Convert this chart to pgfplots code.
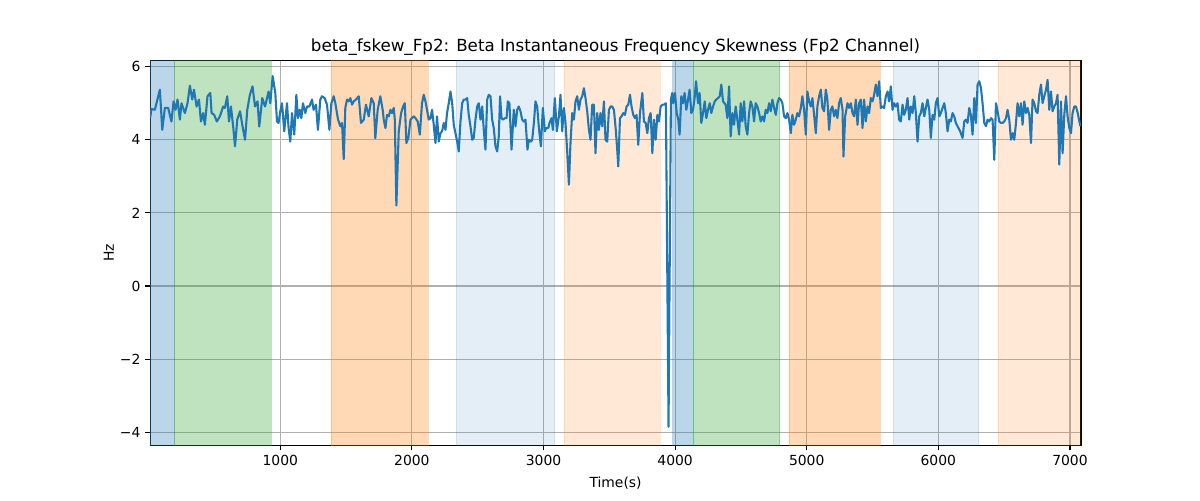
\documentclass[border=0pt]{standalone}
\usepackage{fontspec}
\setmainfont{DejaVu Sans}
\usepackage{pgfplots}
\pgfplotsset{compat=1.18}
\definecolor{tabblue}{RGB}{31,119,180}
\definecolor{taborange}{RGB}{255,127,14}
\definecolor{tabgreen}{RGB}{44,160,44}
\definecolor{gridgray}{RGB}{176,176,176}
\begin{document}
\begin{tikzpicture}
\path[use as bounding box] (-108pt,-39.6pt) rectangle (755.2pt,320.4pt);
\begin{axis}[
  at={(0pt,0pt)}, anchor=south west, scale only axis,
  width=669.6pt, height=277.2pt,
  xmin=11, xmax=7084, ymin=-4.36, ymax=6.18,
  xtick={1000,2000,3000,4000,5000,6000,7000},
  xticklabels={1000,2000,3000,4000,5000,6000,7000},
  ytick={-4,-2,0,2,4,6},
  yticklabels={−4,−2,0,2,4,6},
  xtick pos=bottom, ytick pos=left,
  tick align=outside, major tick length=3.5pt,
  every tick/.style={black, line width=0.8pt},
  axis line style={line width=0.8pt},
  grid=major, major grid style={color=gridgray, line width=0.8pt},
  tick label style={font=\fontsize{10}{12}\selectfont},
  title={beta\_fskew\_Fp2: Beta Instantaneous Frequency Skewness (Fp2 Channel)},
  title style={at={(axis description cs:0.5,1)}, anchor=base, yshift=0.5pt, font=\fontsize{12}{14}\selectfont},
  xlabel={Time(s)},
  xlabel style={at={(axis description cs:0.5,0)}, anchor=base, yshift=-30pt, font=\fontsize{10}{12}\selectfont},
  ylabel={Hz},
  ylabel style={at={(axis description cs:-0.039,0.5)}, anchor=base, rotate=0, font=\fontsize{10}{12}\selectfont},
  clip=true,
]
\addplot[draw=tabblue, draw opacity=0.3, fill=tabblue, fill opacity=0.3] coordinates {(11,-10) (196,-10) (196,10) (11,10)} -- cycle;
\addplot[draw=tabgreen, draw opacity=0.3, fill=tabgreen, fill opacity=0.3] coordinates {(196,-10) (929,-10) (929,10) (196,10)} -- cycle;
\addplot[draw=taborange, draw opacity=0.3, fill=taborange, fill opacity=0.3] coordinates {(1388,-10) (2123,-10) (2123,10) (1388,10)} -- cycle;
\addplot[draw=tabblue, draw opacity=0.12, fill=tabblue, fill opacity=0.12] coordinates {(2338,-10) (3084,-10) (3084,10) (2338,10)} -- cycle;
\addplot[draw=taborange, draw opacity=0.17, fill=taborange, fill opacity=0.17] coordinates {(3155,-10) (3884,-10) (3884,10) (3155,10)} -- cycle;
\addplot[draw=tabblue, draw opacity=0.3, fill=tabblue, fill opacity=0.3] coordinates {(3981,-10) (4136,-10) (4136,10) (3981,10)} -- cycle;
\addplot[draw=tabgreen, draw opacity=0.3, fill=tabgreen, fill opacity=0.3] coordinates {(4136,-10) (4795,-10) (4795,10) (4136,10)} -- cycle;
\addplot[draw=taborange, draw opacity=0.3, fill=taborange, fill opacity=0.3] coordinates {(4866,-10) (5555,-10) (5555,10) (4866,10)} -- cycle;
\addplot[draw=tabblue, draw opacity=0.12, fill=tabblue, fill opacity=0.12] coordinates {(5656,-10) (6306,-10) (6306,10) (5656,10)} -- cycle;
\addplot[draw=taborange, draw opacity=0.17, fill=taborange, fill opacity=0.17] coordinates {(6453,-10) (7084,-10) (7084,10) (6453,10)} -- cycle;
\addplot[tabblue, line width=1.5pt, line join=round, mark=none] table {
x y
11 4.60
21 4.84
47 4.82
85 5.37
103 4.27
123 4.87
148 4.87
173 4.50
189 5.05
204 4.82
219 5.10
237 4.55
249 5.00
275 4.73
295 5.00
313 5.48
331 5.10
344 5.37
364 4.91
382 5.10
397 4.50
414 4.73
427 4.41
447 5.19
468 5.28
478 4.73
498 4.68
518 4.50
541 4.64
566 4.91
579 4.87
597 5.19
610 4.50
625 4.91
643 4.32
656 3.82
673 4.55
694 4.78
711 4.41
732 4.00
749 4.82
769 5.23
789 5.46
808 4.91
827 5.05
840 4.36
863 5.14
884 4.91
911 5.32
924 5.00
942 5.74
962 5.28
975 4.50
987 4.46
1000 4.78
1013 5.00
1030 4.23
1051 5.00
1063 4.32
1076 3.95
1089 4.73
1106 4.14
1122 5.23
1134 4.59
1147 4.82
1160 4.59
1172 5.00
1190 4.73
1203 4.91
1221 4.91
1241 5.10
1253 4.82
1271 4.96
1286 4.27
1304 5.10
1317 5.19
1337 5.14
1355 4.96
1373 4.27
1388 5.00
1406 5.19
1418 5.00
1439 4.55
1456 4.37
1469 4.46
1482 3.47
1494 4.87
1507 5.10
1520 5.05
1532 5.14
1545 4.96
1558 5.05
1575 5.10
1596 5.19
1613 4.46
1634 4.55
1651 4.96
1672 4.64
1692 5.14
1710 5.00
1722 4.04
1740 4.82
1760 5.19
1778 4.82
1786 4.55
1799 4.32
1811 4.68
1824 4.64
1837 4.82
1849 4.73
1862 4.87
1870 4.55
1882 2.20
1900 4.23
1918 4.73
1933 4.91
1946 5.00
1958 3.91
1973 4.05
1989 4.55
2001 4.59
2014 4.64
2027 4.59
2044 4.50
2060 4.14
2077 5.00
2090 5.23
2103 5.05
2115 4.82
2128 4.55
2141 4.59
2153 4.82
2166 4.41
2179 3.91
2191 4.64
2204 3.95
2217 4.18
2229 4.23
2242 4.46
2255 4.27
2267 4.73
2280 5.00
2293 5.32
2306 5.00
2318 4.41
2331 4.18
2344 3.95
2356 3.68
2369 4.50
2382 5.00
2394 5.10
2407 5.10
2420 5.14
2432 4.68
2445 4.37
2458 4.00
2470 4.05
2483 4.55
2496 4.91
2508 5.00
2521 4.55
2534 4.91
2546 4.27
2559 3.73
2572 5.10
2584 5.23
2597 5.19
2610 4.55
2622 4.32
2635 3.82
2648 3.68
2660 4.09
2670 5.19
2681 4.59
2691 4.55
2706 4.59
2719 4.59
2729 5.05
2741 5.00
2757 3.73
2774 4.82
2787 4.37
2800 4.82
2812 4.91
2825 4.78
2838 4.55
2850 4.50
2863 4.55
2878 3.73
2889 4.00
2904 3.95
2914 4.00
2927 4.46
2939 5.05
2952 4.91
2965 4.32
2980 3.82
2995 4.87
3010 4.23
3020 4.32
3036 4.32
3046 4.46
3061 4.59
3071 4.27
3086 5.14
3101 4.23
3117 4.64
3129 5.23
3142 4.23
3155 4.87
3167 4.46
3180 3.68
3193 2.77
3205 3.91
3218 4.73
3231 4.55
3243 5.05
3256 5.19
3269 4.82
3281 5.10
3294 5.19
3307 5.41
3319 5.14
3332 4.78
3345 4.27
3357 4.00
3370 4.96
3383 4.96
3395 3.63
3408 4.73
3421 4.27
3433 4.73
3446 4.37
3459 5.05
3471 4.00
3484 3.95
3497 4.82
3510 4.91
3522 4.91
3535 4.82
3548 4.32
3560 3.73
3568 3.27
3581 4.59
3593 4.64
3606 4.73
3619 4.68
3631 4.91
3644 4.96
3657 5.23
3669 4.91
3682 4.68
3695 4.59
3707 4.68
3720 3.86
3733 4.73
3751 5.28
3763 4.50
3776 4.46
3789 4.18
3801 4.59
3814 4.73
3827 3.63
3839 4.55
3852 4.00
3865 4.68
3877 4.50
3890 4.91
3903 4.96
3915 4.96
3930 5.00
3950 -3.85
3968 5.10
3978 5.28
3986 5.00
3999 5.28
4012 4.73
4024 4.55
4034 4.14
4047 5.19
4060 5.00
4072 5.28
4085 4.82
4098 5.10
4110 5.37
4123 4.73
4136 4.82
4148 5.14
4159 5.60
4174 5.00
4186 5.28
4199 4.46
4212 4.73
4225 5.05
4237 4.59
4250 4.82
4263 5.00
4275 4.73
4288 4.91
4301 5.05
4313 5.10
4326 5.14
4339 5.19
4351 5.51
4364 5.05
4384 4.96
4397 4.59
4410 5.46
4422 4.09
4435 4.73
4448 4.41
4460 4.91
4473 4.55
4486 4.14
4498 5.00
4511 4.50
4524 5.05
4536 4.37
4549 4.14
4562 4.73
4574 5.05
4587 4.91
4600 4.50
4612 5.00
4625 4.91
4638 4.73
4650 4.50
4663 4.64
4676 4.50
4688 4.82
4701 4.73
4714 5.00
4726 4.78
4739 5.10
4752 4.87
4765 4.68
4777 5.00
4790 5.14
4803 5.10
4815 5.00
4828 4.64
4841 4.59
4853 4.73
4866 4.55
4879 4.18
4891 4.68
4904 4.41
4917 4.55
4929 4.73
4942 4.64
4955 4.87
4967 5.19
4980 4.82
4993 4.14
5005 5.32
5018 5.05
5031 4.91
5043 5.14
5056 4.68
5069 4.18
5081 4.91
5094 5.19
5107 5.37
5119 4.87
5132 4.78
5145 5.37
5157 5.10
5170 4.27
5183 4.82
5195 4.91
5208 4.64
5221 4.82
5233 4.59
5246 5.00
5259 5.14
5272 4.82
5279 3.54
5292 4.64
5310 5.00
5322 4.87
5335 5.00
5348 4.73
5360 4.64
5373 5.10
5386 4.41
5398 5.00
5411 5.10
5424 4.32
5436 5.10
5449 4.50
5462 4.91
5474 4.73
5487 5.14
5500 5.05
5512 5.23
5525 5.51
5538 5.19
5550 5.60
5563 4.87
5576 4.91
5588 4.87
5601 5.19
5614 5.32
5626 5.05
5639 5.46
5652 4.82
5664 5.00
5677 4.91
5690 5.00
5702 4.55
5715 4.50
5728 4.96
5740 4.68
5753 4.82
5766 5.14
5779 4.55
5791 4.91
5804 4.73
5817 5.19
5829 4.73
5842 3.95
5855 4.64
5867 4.73
5880 5.00
5893 4.64
5905 4.87
5918 5.10
5931 4.82
5943 4.05
5956 4.68
5969 4.55
5981 5.00
5994 5.14
6007 4.64
6019 4.73
6032 4.87
6045 5.00
6057 4.73
6070 4.23
6083 4.55
6095 4.50
6108 4.73
6121 4.64
6133 4.46
6146 4.37
6166 4.23
6184 4.05
6197 4.50
6209 4.55
6222 4.46
6235 4.87
6247 4.68
6260 4.14
6273 5.14
6286 4.46
6298 5.51
6311 5.60
6324 5.41
6336 5.00
6349 4.46
6362 4.37
6374 4.55
6387 4.50
6400 4.59
6412 4.55
6425 3.45
6438 5.00
6450 4.78
6463 4.50
6476 4.46
6488 4.46
6501 4.50
6514 4.59
6526 4.82
6539 4.55
6552 4.00
6564 4.18
6577 4.00
6590 4.46
6602 5.00
6615 4.64
6628 5.00
6640 4.41
6653 5.05
6666 4.73
6678 4.87
6691 4.68
6704 3.91
6716 5.10
6729 5.00
6742 4.78
6754 4.73
6767 5.23
6780 5.51
6792 5.00
6805 5.19
6818 5.37
6830 5.64
6843 4.82
6856 5.32
6868 4.78
6881 4.91
6894 5.00
6906 5.23
6919 3.32
6932 5.05
6944 3.63
6957 4.68
6970 5.19
6982 4.64
6995 4.32
7008 4.18
7020 4.73
7033 4.91
7046 4.91
7059 4.73
7079 4.37
};
\end{axis}
\end{tikzpicture}
\end{document}
